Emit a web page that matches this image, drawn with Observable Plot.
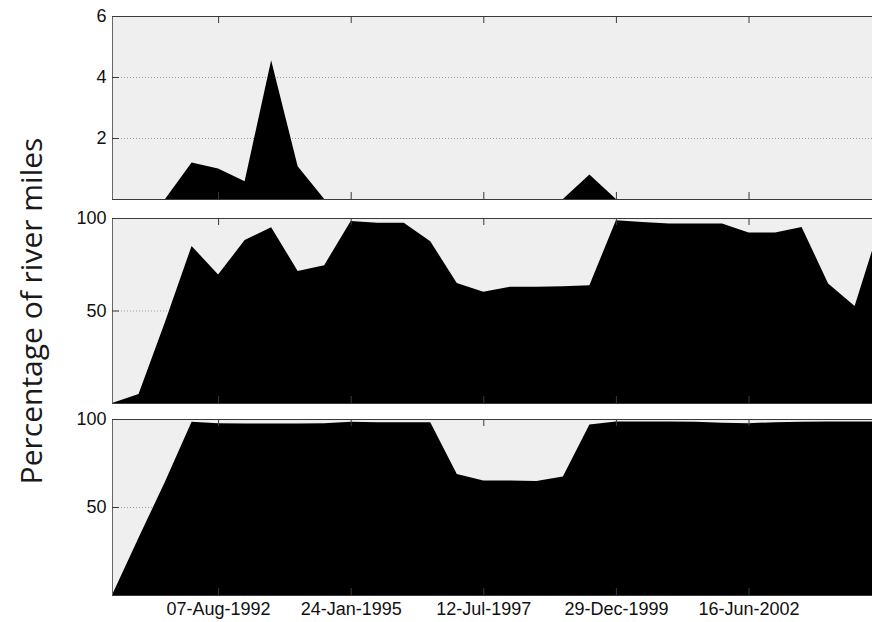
<!DOCTYPE html>
<html>
<head>
<meta charset="utf-8">
<script src="https://cdn.jsdelivr.net/npm/d3@7"></script>
<script src="https://cdn.jsdelivr.net/npm/@observablehq/plot@0.6"></script>
<style>
  html, body { margin: 0; padding: 0; background: #fff; overflow: hidden; }
  #chart { position: relative; width: 872px; height: 622px; overflow: hidden; }
  #chart svg { position: absolute; left: 0; overflow: hidden; }
  #ylabel {
    position: absolute; left: 30px; top: 311px;
    transform: translate(-50%, -50%) rotate(-90deg);
    white-space: nowrap; font-family: "Open Sans", sans-serif; font-size: 30px; color: #1a1a1a;
  }
</style>
</head>
<body>
<div id="chart"><div id="ylabel">Percentage of river miles</div></div>
<script>
// Survey dates (every 180 days)
const surveyDates = [
  "1990-08-18", "1991-02-14", "1991-08-13", "1992-02-09", "1992-08-07",
  "1993-02-03", "1993-08-02", "1994-01-29", "1994-07-28", "1995-01-24",
  "1995-07-23", "1996-01-19", "1996-07-17", "1997-01-13", "1997-07-12",
  "1998-01-08", "1998-07-07", "1999-01-03", "1999-07-02", "1999-12-29",
  "2000-06-26", "2000-12-23", "2001-06-21", "2001-12-18", "2002-06-16",
  "2002-12-13", "2003-06-11", "2003-12-08", "2004-06-05", "2004-12-02"
];

// Percentage of river miles, one series per panel
const seriesTop = [
  0, 0, 0, 1.2, 1.0, 0.58, 4.55, 1.07, 0, 0,
  0, 0, 0, 0, 0, 0, 0, 0, 0.8, 0,
  0, 0, 0, 0, 0, 0, 0, 0, 0, 0
];
const seriesMiddle = [
  0, 4.9, 43.9, 84.9, 69.4, 88.1, 95.0, 71.4, 74.5, 98.4,
  97.5, 97.5, 87.4, 64.9, 60.1, 62.8, 62.9, 63.1, 63.7, 98.8,
  97.9, 97.0, 97.0, 97.0, 92.1, 92.1, 95.2, 64.6, 52.5, 98.0
];
const seriesBottom = [
  0, 32.5, 64.5, 98.4, 97.6, 97.5, 97.5, 97.4, 97.6, 98.4,
  98.2, 98.2, 98.2, 68.8, 65.0, 65.0, 64.8, 67.4, 96.9, 98.6,
  98.6, 98.6, 98.4, 97.8, 97.6, 98.2, 98.4, 98.6, 98.6, 98.6
];

// Axis settings
const xTickDates = ["1992-08-07", "1995-01-24", "1997-07-12", "1999-12-29", "2002-06-16"];
const xDomainEnd = "2004-10-01";
const topTicks = [2, 4, 6];
const pctTicks = [50, 100];

const parse = d3.utcParse("%Y-%m-%d");
const dates = surveyDates.map(parse);
const xTicks = xTickDates.map(parse);
const xDomain = [dates[0], parse(xDomainEnd)];
const fmt = d3.utcFormat("%d-%b-%Y");

const W = 872, ML = 112, TICK = 7;

function panel({values, yMax, yTicks, top, mt, h, mb, showX}) {
  const data = dates.map((date, i) => ({date, value: values[i]}));
  const yTickLen = TICK / h * yMax;
  const msPerPx = (xDomain[1] - xDomain[0]) / (W - ML);
  const xTickEnd = new Date(+xDomain[0] + TICK * msPerPx);
  const edge = "#3a3a3a";
  const svg = Plot.plot({
    width: W,
    height: mt + h + mb,
    marginLeft: ML, marginRight: 0, marginTop: mt, marginBottom: mb,
    style: {fontFamily: "'Liberation Sans', Arial, sans-serif", fontSize: "18px", color: "#111", background: "transparent"},
    x: showX
      ? {type: "utc", domain: xDomain, ticks: xTicks, tickFormat: fmt, tickSize: 0, tickPadding: 7, label: null}
      : {type: "utc", domain: xDomain, axis: null},
    y: {domain: [0, yMax], ticks: yTicks, tickFormat: d => String(d), tickSize: 0, tickPadding: 6, label: null},
    marks: [
      Plot.frame({fill: "#efefef", stroke: "none"}),
      Plot.ruleY(yTicks, {stroke: "#9a9a9a", strokeDasharray: "1,2"}),
      Plot.areaY(data, {x: "date", y: "value", fill: "black"}),
      Plot.ruleY([0, yMax], {stroke: edge}),
      Plot.ruleX([xDomain[0]], {stroke: "#666"}),
      Plot.ruleX(xTicks, {y1: 0, y2: yTickLen, stroke: edge}),
      Plot.ruleX(xTicks, {y1: yMax - yTickLen, y2: yMax, stroke: edge}),
      Plot.ruleY(yTicks, {x1: xDomain[0], x2: xTickEnd, stroke: edge})
    ]
  });
  svg.style.top = (top - mt) + "px";
  return svg;
}

const chart = document.getElementById("chart");
chart.append(
  panel({values: seriesTop, yMax: 6, yTicks: topTicks, top: 16, mt: 16, h: 183, mb: 1, showX: false}),
  panel({values: seriesMiddle, yMax: 100, yTicks: pctTicks, top: 218, mt: 16, h: 185, mb: 1, showX: false}),
  panel({values: seriesBottom, yMax: 100, yTicks: pctTicks, top: 419, mt: 15, h: 176, mb: 27, showX: true})
);
</script>
</body>
</html>
